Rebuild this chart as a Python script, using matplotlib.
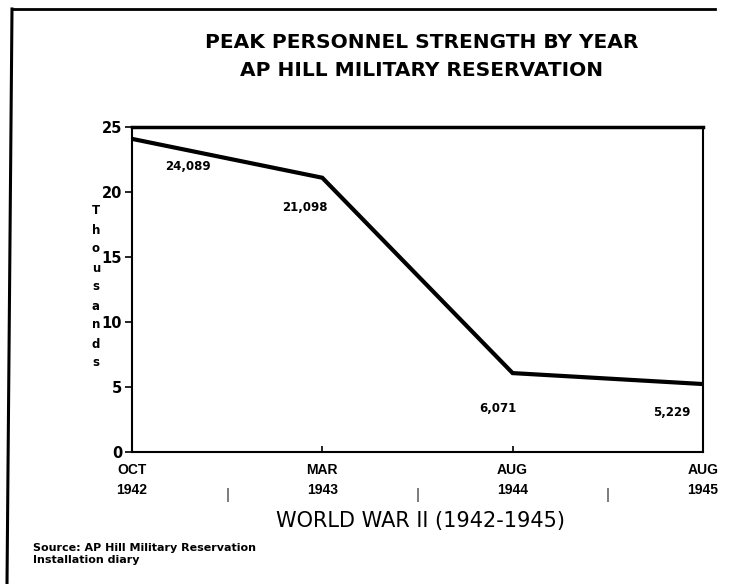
import matplotlib.pyplot as plt
from matplotlib.lines import Line2D

# Data
periods = ["OCT\n1942", "MAR\n1943", "AUG\n1944", "AUG\n1945"]
strength_thousands = [24.089, 21.098, 6.071, 5.229]
point_labels = ["24,089", "21,098", "6,071", "5,229"]
label_offsets = [(56, -28), (-17, -30), (-15, -35), (-31, -28)]

plt.rcParams["font.family"] = ["Liberation Sans", "DejaVu Sans"]
wide = ["DejaVu Sans"]

fig = plt.figure(figsize=(7.36, 5.84), dpi=100)
ax = fig.add_axes([0.1793, 0.226, 0.7758, 0.5565])

x = list(range(len(periods)))
ax.plot(x, strength_thousands, color="black", linewidth=3, solid_joinstyle="miter")

for xi, yi, lab, off in zip(x, strength_thousands, point_labels, label_offsets):
    ax.annotate(lab, (xi, yi), xytext=off, textcoords="offset pixels",
                ha="center", va="center", fontsize=8.5, fontweight="bold", family=wide)

ax.set_xlim(0, 3)
ax.set_ylim(0, 25)
ax.set_yticks([0, 5, 10, 15, 20, 25])
ax.set_yticklabels(["0", "5", "10", "15", "20", "25"], fontsize=10.5, fontweight="bold",
                   family=wide)
ax.set_xticks(x)
ax.set_xticklabels(periods, fontsize=10, fontweight="bold", linespacing=1.5)
ax.set_xticks([0.5, 1.5, 2.5], minor=True)
ax.set_xticklabels(["|", "|", "|"], minor=True, fontsize=11, color="#333333")

ax.tick_params(axis="y", direction="out", length=5, width=1.2, pad=2)
ax.tick_params(axis="x", which="major", direction="in", length=4, width=1.2, pad=8)
ax.tick_params(axis="x", which="minor", length=0, pad=26)

for side in ["left", "right", "bottom"]:
    ax.spines[side].set_linewidth(1.5)
ax.spines["top"].set_linewidth(2.5)

# Stacked "Thousands" axis label
fig.text(96 / 736, 1 - 287 / 584, "\n".join("Thousands"), ha="center", va="center",
         fontsize=8.5, fontweight="bold", linespacing=1.6, family=wide)

fig.text(420 / 736, 1 - 521 / 584, "WORLD WAR II (1942-1945)", ha="center", va="center",
         fontsize=15, family=wide)

fig.text(422 / 736, 1 - 42 / 584, "PEAK PERSONNEL STRENGTH BY YEAR", ha="center",
         va="center", fontsize=14.5, fontweight="bold", family=wide)
fig.text(422 / 736, 1 - 70 / 584, "AP HILL MILITARY RESERVATION", ha="center",
         va="center", fontsize=14.5, fontweight="bold", family=wide)

fig.text(33 / 736, 1 - 548 / 584, "Source: AP Hill Military Reservation", ha="left",
         va="center", fontsize=8, fontweight="bold", family=wide)
fig.text(33 / 736, 1 - 560 / 584, "Installation diary", ha="left", va="center",
         fontsize=8, fontweight="bold", family=wide)

# Outer frame (top and left edges as in the scan)
fig.add_artist(Line2D([12 / 736, 715 / 736], [1 - 9 / 584, 1 - 9 / 584],
                      transform=fig.transFigure, color="black", linewidth=2))
fig.add_artist(Line2D([12 / 736, 7 / 736], [1 - 9 / 584, 0], transform=fig.transFigure,
                      color="black", linewidth=2.2))

fig.savefig("out.png", dpi=100)
